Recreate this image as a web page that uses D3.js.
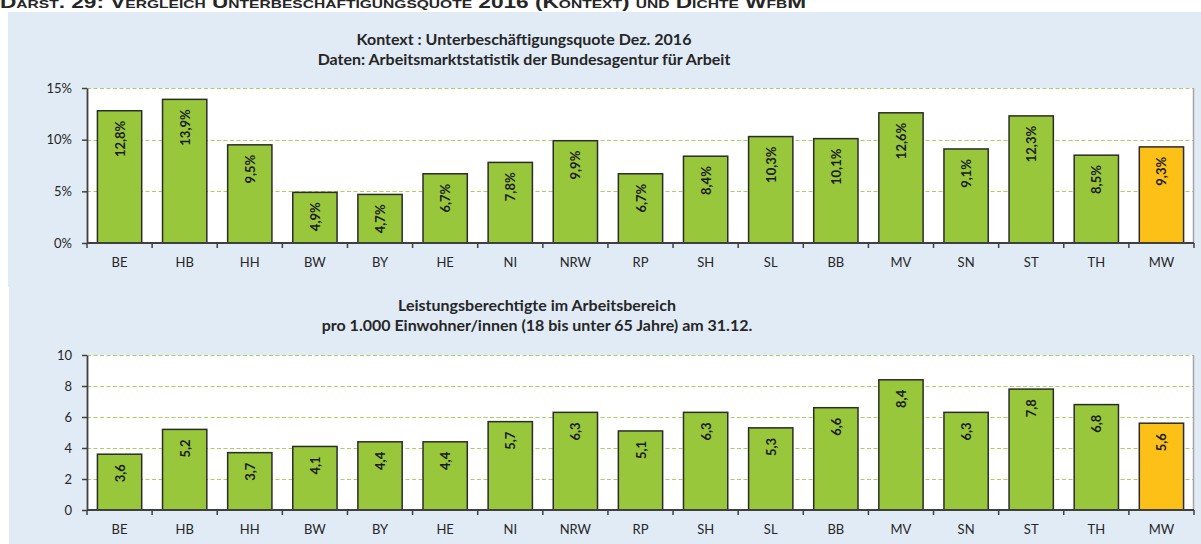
<!DOCTYPE html>
<html>
<head>
<meta charset="utf-8">
<script src="https://cdn.jsdelivr.net/npm/d3@7/dist/d3.min.js"></script>
<style>
  body { margin: 0; background: #fff; }
  svg { display: block; }
  text { font-family: Lato, "Open Sans", sans-serif; fill: #262626; }
</style>
</head>
<body>
<svg id="chart" width="1201" height="544"></svg>
<script>
// categories (Bundeslaender + MW)
var states = ['BE', 'HB', 'HH', 'BW', 'BY', 'HE', 'NI', 'NRW', 'RP', 'SH', 'SL', 'BB', 'MV', 'SN', 'ST', 'TH', 'MW'];

// Unterbeschaeftigungsquote Dez. 2016 in %
var quote = [12.8, 13.9, 9.5, 4.9, 4.7, 6.7, 7.8, 9.9, 6.7, 8.4, 10.3, 10.1, 12.6, 9.1, 12.3, 8.5, 9.3];

// Leistungsberechtigte je 1.000 Einwohner
var dichte = [3.6, 5.2, 3.7, 4.1, 4.4, 4.4, 5.7, 6.3, 5.1, 6.3, 5.3, 6.6, 8.4, 6.3, 7.8, 6.8, 5.6];

var quoteTicks = [0, 5, 10, 15];
var dichteTicks = [0, 2, 4, 6, 8, 10];

var header = 'Darst. 29: Vergleich Unterbeschäftigungsquote 2016 (Kontext) und Dichte WfbM';
var titleTop = ['Kontext : Unterbeschäftigungsquote Dez. 2016',
                'Daten: Arbeitsmarktstatistik der Bundesagentur für Arbeit'];
var titleBottom = ['Leistungsberechtigte im Arbeitsbereich',
                   'pro 1.000  Einwohner/innen (18 bis unter 65 Jahre) am 31.12.'];

var svg = d3.select('#chart');
var green = '#99c73b', gold = '#fcc016', grid = '#a8d160', axisCol = '#404040';

// header (its top is cut off in the source page)
svg.append('text')
  .attr('x', 0).attr('y', 8)
  .attr('textLength', 806).attr('lengthAdjust', 'spacingAndGlyphs')
  .style('font-family', '"Liberation Sans Narrow", "Arial Narrow", "Liberation Sans", sans-serif')
  .style('font-size', '16px').style('font-weight', 'bold')
  .style('font-variant', 'small-caps')
  .text(header);

// light blue panels
svg.append('rect').attr('x', 8).attr('y', 12).attr('width', 1193).attr('height', 275).attr('fill', '#e1ebf6');
svg.append('rect').attr('x', 9).attr('y', 287).attr('width', 1192).attr('height', 257).attr('fill', '#e1ebf6');

function drawPanel(opt) {
  var g = svg.append('g');

  var x = d3.scaleBand().domain(states)
    .range([87, 1194]).paddingInner(0.32).paddingOuter(0.16);
  var y = d3.scaleLinear().domain(opt.domain).range([opt.bottom, opt.top]);

  // plot area
  g.append('rect').attr('x', 87).attr('y', opt.top)
    .attr('width', 1194 - 87).attr('height', opt.bottom - opt.top).attr('fill', '#fff');
  g.append('line').attr('x1', 1193.5).attr('x2', 1193.5)
    .attr('y1', opt.top).attr('y2', opt.bottom)
    .attr('stroke', '#a6a6a6').attr('stroke-width', 1.5);

  // titles
  opt.title.forEach(function(t, i) {
    g.append('text').attr('x', opt.titleX).attr('y', opt.titleY + i * 20)
      .attr('text-anchor', 'middle')
      .style('font-size', '16px').style('font-weight', 'bold')
      .text(t);
  });

  // gridlines
  g.append('g').selectAll('line')
    .data(opt.ticks.filter(function(d) { return d > 0; }))
    .join('line')
    .attr('x1', 87).attr('x2', 1193)
    .attr('y1', function(d) { return Math.round(y(d)) + 0.5; })
    .attr('y2', function(d) { return Math.round(y(d)) + 0.5; })
    .attr('stroke', grid).attr('stroke-width', 1.2)
    .attr('stroke-dasharray', '4,2.5');

  // bars
  g.append('g').selectAll('rect')
    .data(opt.values)
    .join('rect')
    .attr('x', function(d, i) { return x(states[i]); })
    .attr('y', function(d) { return y(d); })
    .attr('width', x.bandwidth())
    .attr('height', function(d) { return y(0) - y(d); })
    .attr('fill', function(d, i) { return states[i] === 'MW' ? gold : green; })
    .attr('stroke', '#2b2b2b').attr('stroke-width', 1.5);

  // bar labels (rotated, inside end)
  g.append('g').selectAll('text')
    .data(opt.values)
    .join('text')
    .attr('transform', function(d, i) {
      var cx = x(states[i]) + x.bandwidth() / 2 + 5;
      return 'translate(' + cx + ',' + (y(d) + 10) + ') rotate(-90)';
    })
    .attr('text-anchor', 'end')
    .style('font-size', '13px').style('font-weight', 'bold')
    .style('fill', '#1a1a1a')
    .text(function(d) { return opt.fmt(d); });

  // y axis
  var yAxis = g.append('g').attr('transform', 'translate(87,0)')
    .call(d3.axisLeft(y).tickValues(opt.ticks).tickSize(5).tickSizeOuter(0).tickPadding(10)
      .tickFormat(opt.tickFmt));
  yAxis.select('.domain').attr('stroke', axisCol).attr('stroke-width', 1.8);
  yAxis.selectAll('.tick line').attr('stroke', axisCol).attr('stroke-width', 1.5);
  yAxis.selectAll('.tick text').style('font-size', '13px').style('font-family', 'Lato, sans-serif').attr('fill', '#262626');

  // x axis: line, boundary ticks, labels
  var step = x.step();
  var x0 = x(states[0]) - step * x.paddingInner() / 2;
  g.append('line').attr('x1', 87).attr('x2', 1194)
    .attr('y1', opt.bottom).attr('y2', opt.bottom)
    .attr('stroke', axisCol).attr('stroke-width', 1.8);
  g.append('g').selectAll('line')
    .data(d3.range(states.length + 1))
    .join('line')
    .attr('x1', function(i) { return x0 + i * step; })
    .attr('x2', function(i) { return x0 + i * step; })
    .attr('y1', opt.bottom).attr('y2', opt.bottom + 5)
    .attr('stroke', axisCol).attr('stroke-width', 1.5);
  g.append('g').selectAll('text')
    .data(states)
    .join('text')
    .attr('x', function(d) { return x(d) + x.bandwidth() / 2; })
    .attr('y', opt.bottom + 24)
    .attr('text-anchor', 'middle')
    .style('font-size', '13px')
    .text(function(d) { return d; });
}

function comma(d, digits) { return d.toFixed(digits).replace('.', ','); }

drawPanel({
  values: quote, domain: [0, 15], ticks: quoteTicks,
  top: 88, bottom: 243,
  title: titleTop, titleX: 524, titleY: 45,
  fmt: function(d) { return comma(d, 1) + '%'; },
  tickFmt: function(d) { return d + '%'; }
});

drawPanel({
  values: dichte, domain: [0, 10], ticks: dichteTicks,
  top: 355, bottom: 510,
  title: titleBottom, titleX: 537, titleY: 311,
  fmt: function(d) { return comma(d, 1); },
  tickFmt: function(d) { return d; }
});
</script>
</body>
</html>
